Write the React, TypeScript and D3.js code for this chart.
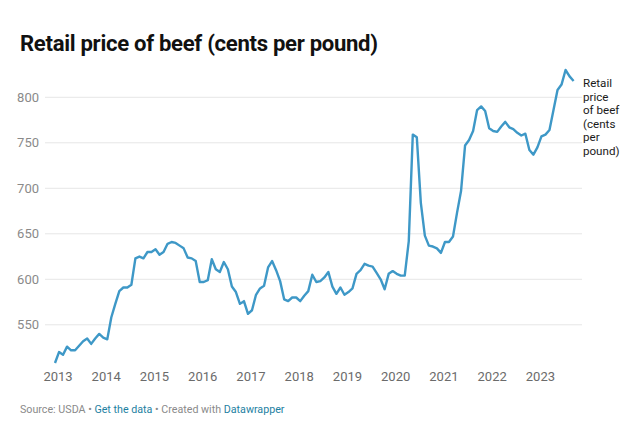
import React from "react";
import * as d3 from "d3";

const TITLE = "Retail price of beef (cents per pound)";
const SERIES_LABEL = ["Retail", "price", "of beef", "(cents", "per", "pound)"];
const START_YEAR = 2013;
const YEAR_TICKS = [2013, 2014, 2015, 2016, 2017, 2018, 2019, 2020, 2021, 2022, 2023];
const Y_TICKS = [550, 600, 650, 700, 750, 800];

// Monthly values, Jan 2013 – Oct 2023 (cents per pound)
const VALUES_2013 = [508, 520, 517, 526, 522, 522, 527, 532, 535, 529, 535, 540];
const VALUES_2014 = [536, 534, 558, 573, 587, 591, 591, 594, 623, 625, 623, 630];
const VALUES_2015 = [630, 633, 627, 630, 639, 641, 640, 637, 634, 624, 623, 620];
const VALUES_2016 = [597, 597, 599, 622, 611, 608, 619, 611, 592, 586, 573, 576];
const VALUES_2017 = [562, 566, 583, 590, 593, 613, 620, 610, 598, 578, 576, 580];
const VALUES_2018 = [580, 576, 582, 587, 605, 597, 598, 602, 608, 592, 584, 591];
const VALUES_2019 = [583, 586, 590, 606, 610, 617, 615, 614, 607, 600, 589, 606];
const VALUES_2020 = [609, 606, 604, 604, 642, 759, 756, 684, 648, 637, 636, 634];
const VALUES_2021 = [629, 641, 641, 647, 673, 697, 747, 753, 763, 786, 790, 785];
const VALUES_2022 = [766, 763, 762, 768, 773, 767, 765, 761, 758, 760, 742, 737];
const VALUES_2023 = [745, 757, 759, 764, 786, 808, 814, 830, 823, 818];

const VALUES = [
  ...VALUES_2013, ...VALUES_2014, ...VALUES_2015, ...VALUES_2016, ...VALUES_2017,
  ...VALUES_2018, ...VALUES_2019, ...VALUES_2020, ...VALUES_2021, ...VALUES_2022, ...VALUES_2023,
];

const W = 640;
const H = 437;

export default function App() {
  const x = d3.scaleLinear().domain([0, VALUES.length - 1]).range([55, 573.6]);
  const y = d3.scaleLinear().domain([550, 800]).range([324.8, 97.3]);
  const line = d3
    .line<number>()
    .x((_, i) => x(i))
    .y((d) => y(d));
  const gridX0 = 45;
  const gridX1 = 582;
  const font = "Roboto, 'Noto Sans', sans-serif";
  return (
    <svg
      width={W}
      height={H}
      style={{ position: "absolute", left: 0, top: 0, background: "#fff" }}
      fontFamily={font}
    >
      <text x={20} y={51} fontSize={22.1} fontWeight={700} fill="#111" letterSpacing={-0.3}>
        {TITLE}
      </text>
      {Y_TICKS.map((t) => (
        <g key={t}>
          <line x1={gridX0} x2={gridX1} y1={y(t)} y2={y(t)} stroke="#e6e6e6" strokeWidth={1} />
          <text x={39} y={y(t)} dy="0.35em" textAnchor="end" fontSize={13} fill="#8a8a8a">
            {t}
          </text>
        </g>
      ))}
      {YEAR_TICKS.map((yr) => (
        <text
          key={yr}
          x={x((yr - START_YEAR) * 12) + 3}
          y={381}
          textAnchor="middle"
          fontSize={13}
          fill="#6b6b6b"
        >
          {yr}
        </text>
      ))}
      <path d={line(VALUES) || ""} fill="none" stroke="#3e98c7" strokeWidth={2.4} strokeLinejoin="round" />
      <text x={583} fontSize={11.6} fill="#1a1a1a">
        {SERIES_LABEL.map((s, i) => (
          <tspan key={i} x={583} y={87 + i * 13.6}>
            {s}
          </tspan>
        ))}
      </text>
      <text x={20} y={413} fontSize={10.7} fill="#8a8a8a">
        <tspan>Source: USDA • </tspan>
        <tspan fill="#1d81a2">Get the data</tspan>
        <tspan> • Created with </tspan>
        <tspan fill="#1d81a2">Datawrapper</tspan>
      </text>
    </svg>
  );
}
